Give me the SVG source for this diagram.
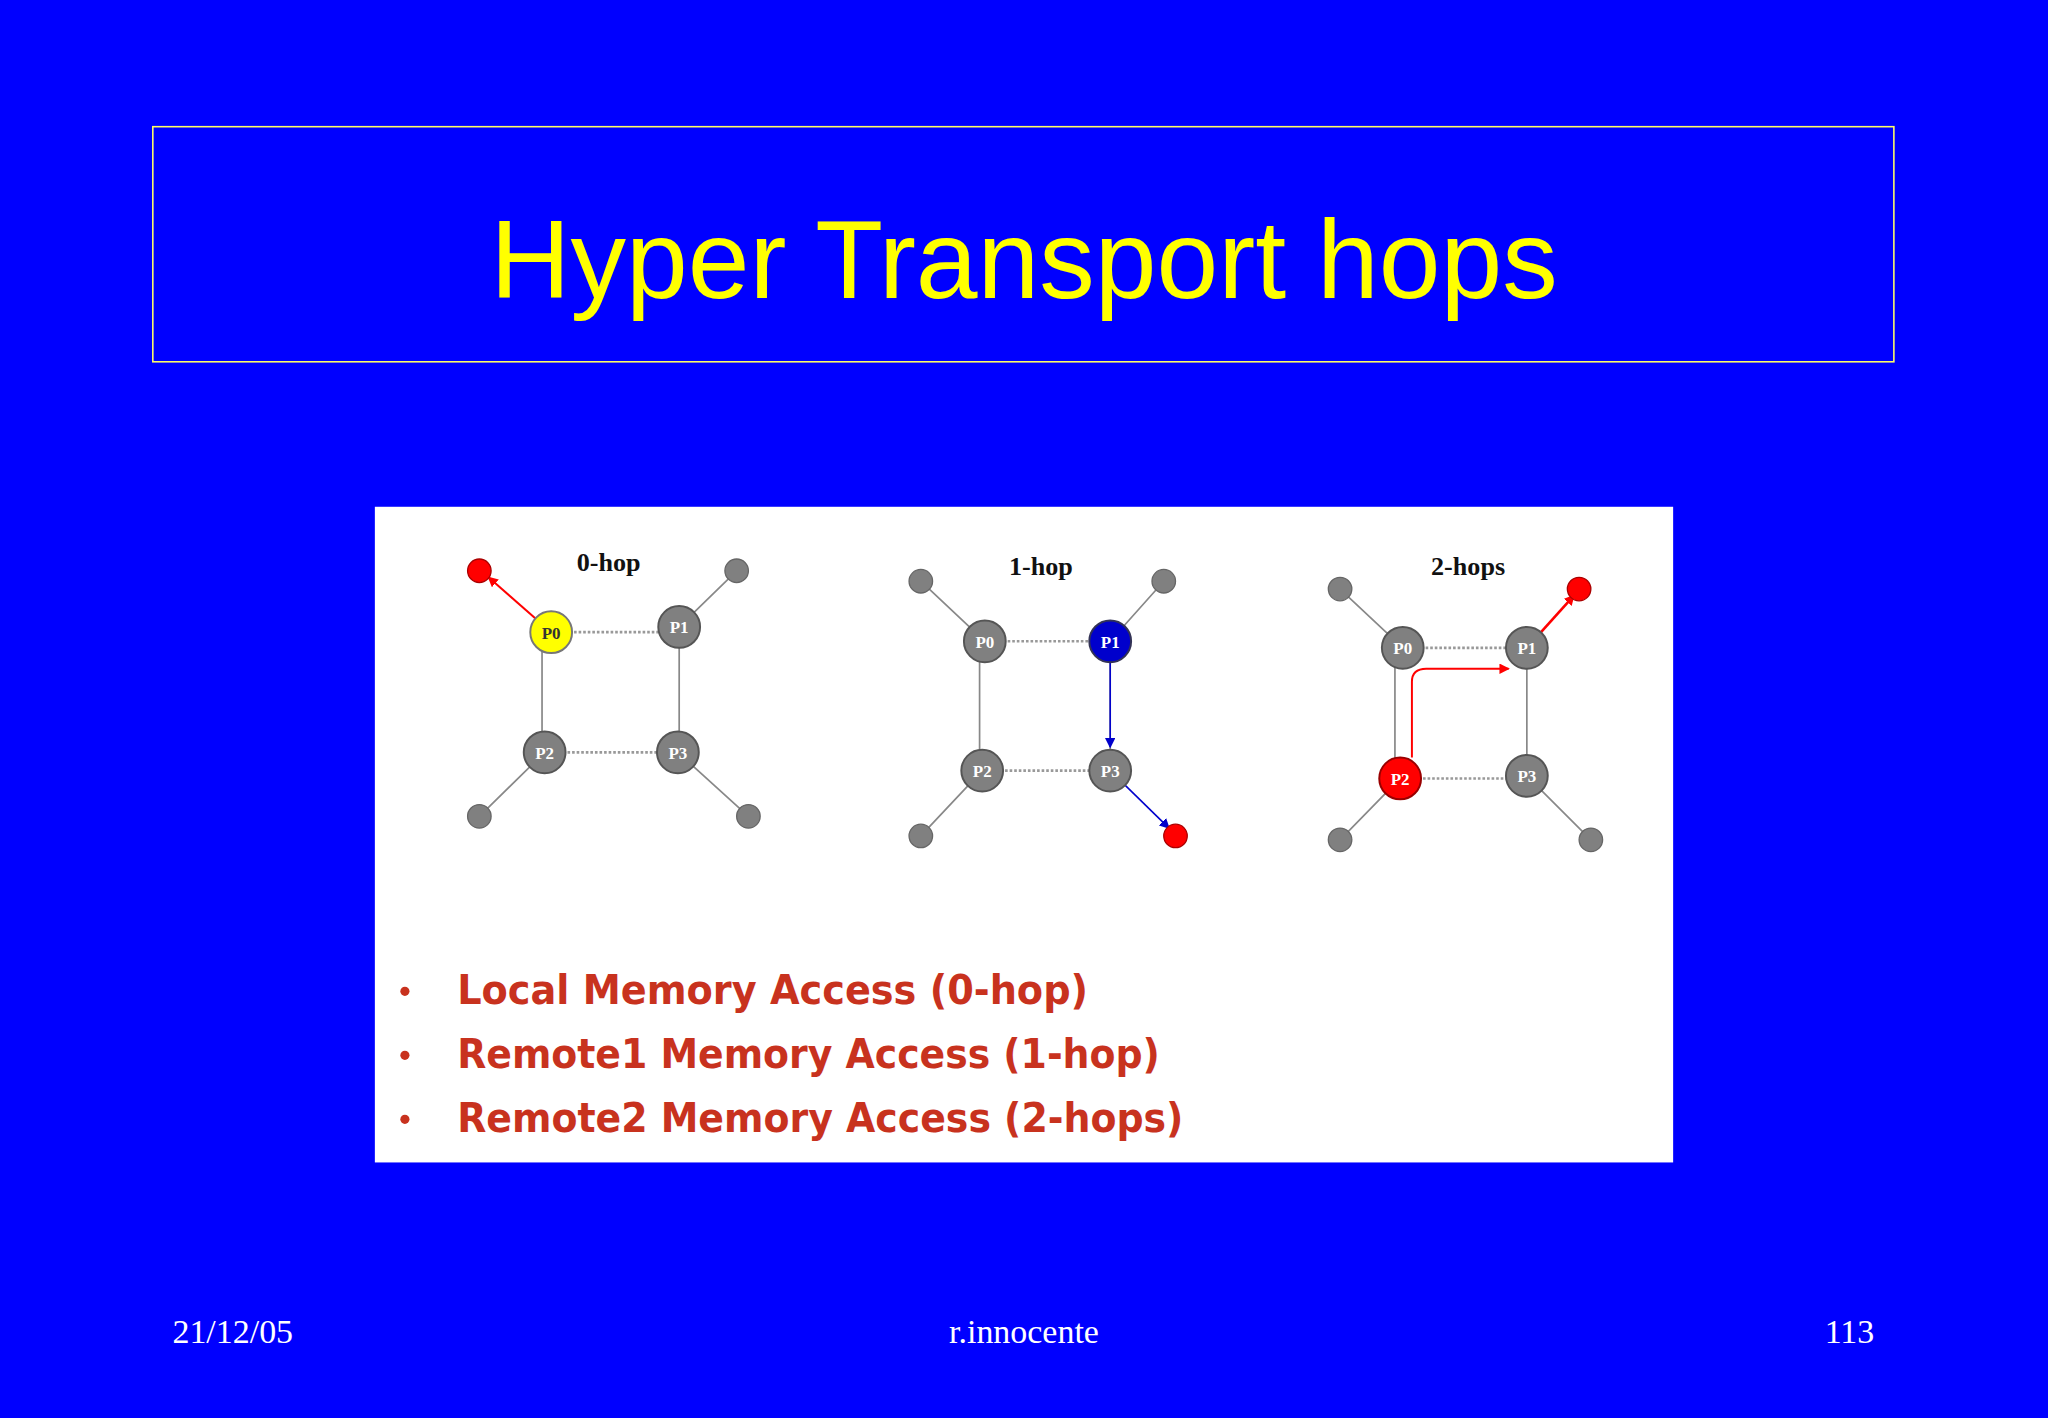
<svg xmlns="http://www.w3.org/2000/svg" width="2048" height="1418" viewBox="0 0 2048 1418">
<style>
.n{fill:#808080;stroke:#555;stroke-width:1.5}
.d{fill:#808080;stroke:#666;stroke-width:1}
.r{fill:#ff0000;stroke:#a00;stroke-width:1}
.l{fill:#fff;font-family:"Liberation Serif",serif;font-weight:bold;font-size:13px;text-anchor:middle}
.e{stroke:#888;stroke-width:1.3;fill:none}
.s{stroke:#999;stroke-width:2;stroke-dasharray:2 1.5;fill:none}
.h{font-family:"Liberation Serif",serif;font-weight:bold;font-size:20px;text-anchor:middle;fill:#111}
.b{font-family:"DejaVu Sans",sans-serif;font-weight:bold;font-size:31px;fill:#c8321e}
.f{font-family:"Liberation Serif",serif;font-size:26px;fill:#fff}
</style>
<defs>
<marker id="ar" markerWidth="8" markerHeight="8" refX="7" refY="4" orient="auto" markerUnits="userSpaceOnUse"><path d="M0,0L8,4L0,8z" fill="#f00"/></marker>
<marker id="ab" markerWidth="8" markerHeight="8" refX="7" refY="4" orient="auto" markerUnits="userSpaceOnUse"><path d="M0,0L8,4L0,8z" fill="#00c"/></marker>
</defs>
<rect width="2048" height="1418" fill="#0000ff"/>
<g transform="scale(1.30612)">
<g id="title"><rect x="117" y="97" width="1333" height="180" fill="none" stroke="#ffff66" stroke-width="1.2"/>
<text x="784" y="228" font-family="Liberation Sans,Arial,sans-serif" font-size="85" fill="#ffff00" text-anchor="middle">Hyper Transport hops</text></g>
<rect id="panel" x="287" y="388" width="994" height="502" fill="#fff"/>
<g id="connectors">
<path class="s" d="M422,484H520M417,576H519M754,491H850M752,590H850M1074,496H1169M1072,596H1169"/>
<path class="e" d="M415,484V576M520,480V576M750,491V590M850,491V590M1068,496V596M1169,496V594"/>
<path class="e" d="M520,480L564,437M417,576L367,625M519,576L573,625M754,491L705,445M850,491L891,445M752,590L705,640M1074,496L1026,451M1072,596L1026,643M1169,594L1218,643"/>
<path d="M422,484L374,442" stroke="#f00" stroke-width="1.5" marker-end="url(#ar)"/>
<path d="M850,506V572" stroke="#00c" stroke-width="1.2" marker-end="url(#ab)"/>
<path d="M850,590L895,634" stroke="#00c" stroke-width="1.2" marker-end="url(#ab)"/>
<path d="M1169,496L1205,456" stroke="#f00" stroke-width="2" marker-end="url(#ar)"/>
<path d="M1081,580V522Q1081,512 1092,512H1155" stroke="#f00" stroke-width="1.5" fill="none" marker-end="url(#ar)"/>
</g>
<g id="d0"><text class="h" x="466" y="437">0-hop</text>
<circle class="r" cx="367" cy="437" r="9"/><circle class="d" cx="564" cy="437" r="9"/><circle class="d" cx="367" cy="625" r="9"/><circle class="d" cx="573" cy="625" r="9"/>
<circle cx="422" cy="484" r="16" fill="#ffff00" stroke="#777" stroke-width="1.5"/><text class="l" x="422" y="489" fill="#000" style="fill:#333">P0</text>
<circle class="n" cx="520" cy="480" r="16"/><text class="l" x="520" y="485">P1</text>
<circle class="n" cx="417" cy="576" r="16"/><text class="l" x="417" y="581">P2</text>
<circle class="n" cx="519" cy="576" r="16"/><text class="l" x="519" y="581">P3</text></g>
<g id="d1"><text class="h" x="797" y="440">1-hop</text>
<circle class="d" cx="705" cy="445" r="9"/><circle class="d" cx="891" cy="445" r="9"/><circle class="d" cx="705" cy="640" r="9"/><circle class="r" cx="900" cy="640" r="9"/>
<circle class="n" cx="754" cy="491" r="16"/><text class="l" x="754" y="496">P0</text>
<circle cx="850" cy="491" r="16" fill="#0000cc" stroke="#335" stroke-width="1.5"/><text class="l" x="850" y="496">P1</text>
<circle class="n" cx="752" cy="590" r="16"/><text class="l" x="752" y="595">P2</text>
<circle class="n" cx="850" cy="590" r="16"/><text class="l" x="850" y="595">P3</text></g>
<g id="d2"><text class="h" x="1124" y="440">2-hops</text>
<circle class="d" cx="1026" cy="451" r="9"/><circle class="r" cx="1209" cy="451" r="9"/><circle class="d" cx="1026" cy="643" r="9"/><circle class="d" cx="1218" cy="643" r="9"/>
<circle class="n" cx="1074" cy="496" r="16"/><text class="l" x="1074" y="501">P0</text>
<circle class="n" cx="1169" cy="496" r="16"/><text class="l" x="1169" y="501">P1</text>
<circle cx="1072" cy="596" r="16" fill="#ff0000" stroke="#900" stroke-width="1.5"/><text class="l" x="1072" y="601">P2</text>
<circle class="n" cx="1169" cy="594" r="16"/><text class="l" x="1169" y="599">P3</text></g>
<g id="bullets">
<circle cx="310" cy="759" r="3.5" fill="#c8321e"/><circle cx="310" cy="808" r="3.5" fill="#c8321e"/><circle cx="310" cy="857" r="3.5" fill="#c8321e"/>
<text class="b" x="350" y="769" textLength="483" lengthAdjust="spacingAndGlyphs">Local Memory Access (0-hop)</text>
<text class="b" x="350" y="818" textLength="538" lengthAdjust="spacingAndGlyphs">Remote1 Memory Access (1-hop)</text>
<text class="b" x="350" y="867" textLength="556" lengthAdjust="spacingAndGlyphs">Remote2 Memory Access (2-hops)</text></g>
<g id="footer"><text class="f" x="132" y="1028">21/12/05</text>
<text class="f" x="784" y="1028" text-anchor="middle">r.innocente</text>
<text class="f" x="1435" y="1028" text-anchor="end">113</text></g>
</g>
</svg>
